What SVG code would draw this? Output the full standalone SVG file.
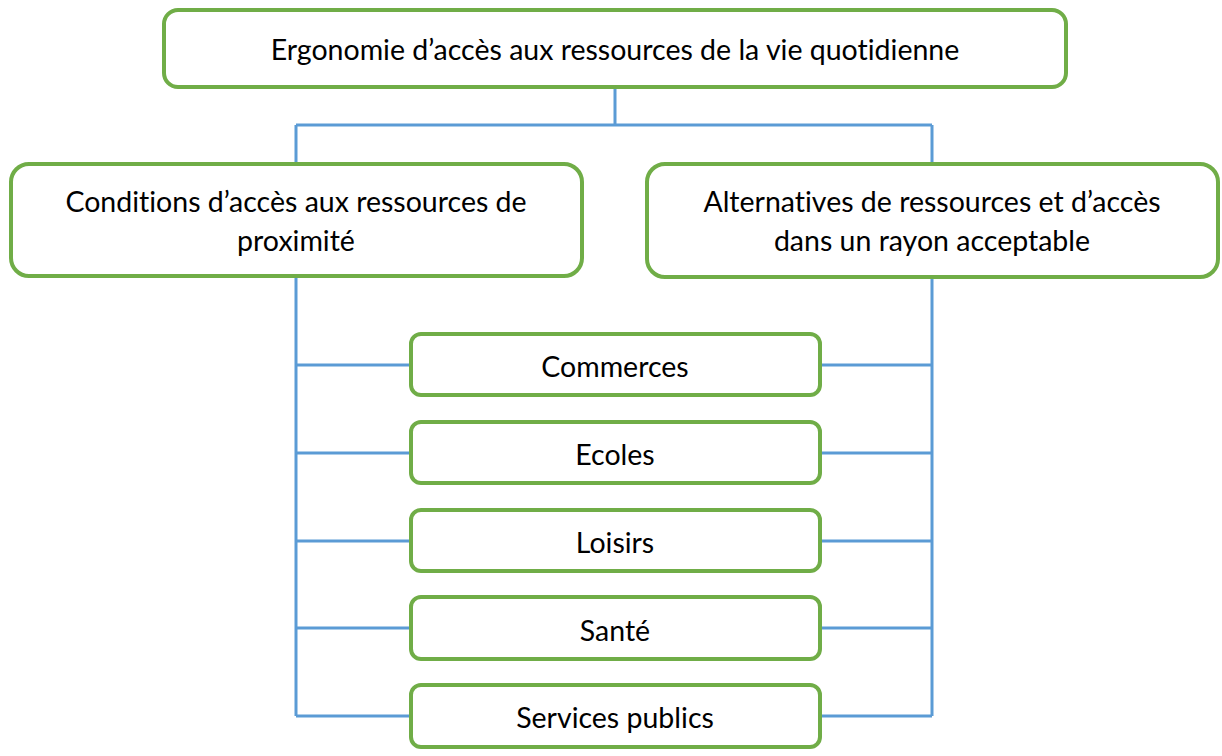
<svg xmlns="http://www.w3.org/2000/svg" width="1222" height="756" viewBox="0 0 1222 756">
<style>
.box{fill:#fff;stroke:#70AD47;stroke-width:4}
.con{fill:none;stroke:#5B9BD5;stroke-width:3}
text{font-family:Lato,"Open Sans",sans-serif;font-size:28.5px;fill:#000;text-anchor:middle;font-variant-ligatures:none}
</style>
<rect width="1222" height="756" fill="#fff"/>
<g id="connectors">
<path class="con" d="M615,89 V125 M296,125 H932 M296,125 V164 M932,125 V164"/>
<path class="con" d="M296,278 V716 M932,279 V716"/>
<path class="con" d="M296,365 H411 M296,453 H411 M296,541 H411 M296,628 H411 M296,716 H411"/>
<path class="con" d="M820,365 H932 M820,453 H932 M820,541 H932 M820,628 H932 M820,716 H932"/>
</g>
<g id="top">
<rect class="box" x="164" y="10" width="902" height="77" rx="14"/>
<text x="615" y="60">Ergonomie d’accès aux ressources de la vie quotidienne</text>
</g>
<g id="left">
<rect class="box" x="11" y="164" width="571" height="112" rx="18"/>
<text x="296" y="212">Conditions d’accès aux ressources de</text>
<text x="296" y="251">proximité</text>
</g>
<g id="right">
<rect class="box" x="647" y="164" width="571" height="113" rx="18"/>
<text x="932" y="212">Alternatives de ressources et d’accès</text>
<text x="932" y="251">dans un rayon acceptable</text>
</g>
<g id="commerces">
<rect class="box" x="411" y="334" width="409" height="61" rx="10"/>
<text x="615" y="377">Commerces</text>
</g>
<g id="ecoles">
<rect class="box" x="411" y="422" width="409" height="61" rx="10"/>
<text x="615" y="465">Ecoles</text>
</g>
<g id="loisirs">
<rect class="box" x="411" y="510" width="409" height="61" rx="10"/>
<text x="615" y="553">Loisirs</text>
</g>
<g id="sante">
<rect class="box" x="411" y="597" width="409" height="62" rx="10"/>
<text x="615" y="641">Santé</text>
</g>
<g id="services">
<rect class="box" x="411" y="685" width="409" height="62" rx="10"/>
<text x="615" y="728">Services publics</text>
</g>
</svg>
